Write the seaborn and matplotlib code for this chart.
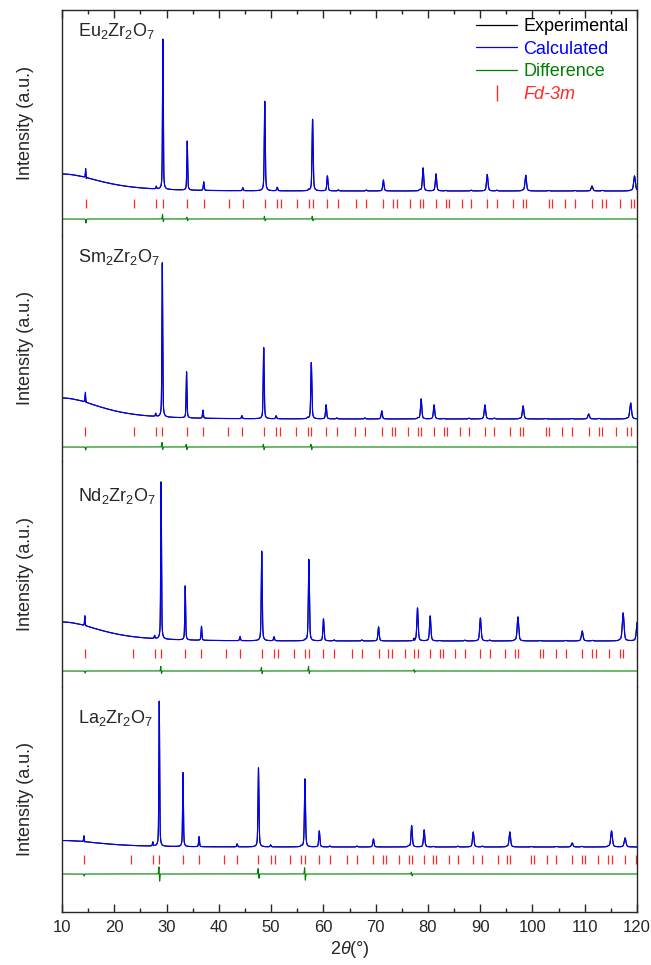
import numpy as np
import pandas as pd
import matplotlib
matplotlib.use("Agg")
import matplotlib.pyplot as plt
from matplotlib.lines import Line2D
from matplotlib.ticker import MultipleLocator
import seaborn as sns

# ---------------------------------------------------------------------------
# Rietveld refinement data of the A2Zr2O7 pyrochlores (Cu K-alpha, 2-theta)
# ---------------------------------------------------------------------------
samples = ["Eu", "Sm", "Nd", "La"]
sample_labels = [r"Eu$_2$Zr$_2$O$_7$", r"Sm$_2$Zr$_2$O$_7$",
                 r"Nd$_2$Zr$_2$O$_7$", r"La$_2$Zr$_2$O$_7$"]

# Bragg reflection positions (2-theta, deg) of the Fd-3m phase
refl_eu = [14.53, 23.84, 28.03, 29.30, 33.96, 37.11, 41.92, 44.59, 48.79, 51.18,
           51.96, 55.00, 57.21, 57.94, 60.77, 62.85, 66.24, 68.23, 71.48, 73.40,
           74.04, 76.56, 78.44, 79.07, 81.55, 83.39, 84.01, 86.46, 88.29, 91.35,
           93.18, 96.25, 98.10, 98.71, 103.07, 103.70, 106.23, 108.14, 111.39,
           113.37, 114.04, 116.74, 118.82, 119.52]
refl_sm = [14.47, 23.75, 27.92, 29.19, 33.83, 36.96, 41.75, 44.41, 48.59, 50.97,
           51.75, 54.78, 56.97, 57.70, 60.52, 62.59, 65.96, 67.94, 71.17, 73.08,
           73.71, 76.22, 78.09, 78.71, 81.18, 83.00, 83.62, 86.05, 87.87, 90.91,
           92.72, 95.77, 97.60, 98.21, 102.53, 103.15, 105.65, 107.54, 110.75,
           112.71, 113.37, 116.04, 118.09, 118.78]
refl_nd = [14.37, 23.57, 27.71, 28.96, 33.57, 36.68, 41.43, 44.06, 48.21, 50.56,
           51.33, 54.33, 56.51, 57.23, 60.02, 62.06, 65.40, 67.36, 70.56, 72.44,
           73.07, 75.55, 77.39, 78.01, 80.44, 82.25, 82.85, 85.25, 87.05, 90.04,
           91.83, 94.82, 96.63, 97.22, 101.46, 102.07, 104.53, 106.38, 109.52,
           111.43, 112.08, 114.68, 116.68, 117.35, 120.06]
refl_la = [14.19, 23.28, 27.37, 28.61, 33.15, 36.22, 40.91, 43.50, 47.59, 49.91,
           50.67, 53.62, 55.77, 56.48, 59.22, 61.24, 64.52, 66.44, 69.58, 71.44,
           72.05, 74.48, 76.29, 76.90, 79.28, 81.05, 81.64, 83.99, 85.74, 88.67,
           90.41, 93.34, 95.09, 95.67, 99.79, 100.39, 102.77, 104.56, 107.60,
           109.44, 110.06, 112.57, 114.49, 115.13, 117.72, 119.73]

# Peak heights (counts above background) for each reflection above
height_eu = [900, 0, 250, 14900, 4900, 850, 0, 300, 8900, 350,
             0, 0, 100, 7100, 1500, 100, 0, 100, 1100, 0,
             0, 0, 100, 2300, 1700, 50, 0, 0, 80, 1650,
             80, 0, 50, 1570, 50, 0, 0, 50, 500,
             60, 0, 0, 50, 1500]
height_sm = [1000, 0, 300, 15300, 4600, 800, 0, 300, 7100, 300,
             0, 0, 100, 5600, 1400, 100, 0, 100, 800, 0,
             0, 0, 100, 2000, 1400, 50, 0, 0, 80, 1400,
             80, 0, 50, 1300, 50, 0, 0, 50, 500,
             60, 0, 0, 50, 1600]
height_nd = [1000, 0, 300, 15600, 5400, 1400, 0, 400, 8900, 400,
             0, 0, 100, 8000, 2200, 100, 0, 100, 1400, 0,
             0, 0, 100, 3300, 2500, 50, 0, 0, 80, 2300,
             80, 0, 50, 2400, 50, 0, 0, 50, 1000,
             60, 0, 0, 50, 2800, 2000]
height_la = [600, 0, 400, 14500, 7400, 1000, 0, 300, 7800, 200,
             0, 0, 100, 6700, 1600, 100, 0, 100, 800, 0,
             0, 0, 100, 2100, 1700, 50, 0, 0, 80, 1500,
             80, 0, 50, 1500, 50, 0, 0, 50, 400,
             60, 0, 0, 50, 1600, 900, 0]

# Background: flat level plus the low-angle hump
bkg_level = [2000, 2000, 2000, 2000]
bkg_hump = [1700, 2100, 1900, 650]

# Misfit features of the difference curve: position, positive and negative lobes
diff_pos_eu = [14.53, 29.30, 33.96, 48.79, 57.94]
diff_up_eu = [0, 500, 200, 300, 300]
diff_dn_eu = [400, 300, 200, 200, 200]
diff_pos_sm = [14.47, 29.19, 33.83, 48.59, 57.70]
diff_up_sm = [0, 500, 300, 300, 300]
diff_dn_sm = [300, 300, 300, 300, 300]
diff_pos_nd = [14.37, 28.96, 48.21, 57.23, 77.39]
diff_up_nd = [0, 500, 400, 500, 150]
diff_dn_nd = [200, 300, 300, 300, 150]
diff_pos_la = [14.19, 28.61, 47.59, 56.48, 76.90]
diff_up_la = [0, 800, 600, 700, 200]
diff_dn_la = [200, 800, 500, 700, 200]

refl = [refl_eu, refl_sm, refl_nd, refl_la]
heights = [height_eu, height_sm, height_nd, height_la]
diff_pos = [diff_pos_eu, diff_pos_sm, diff_pos_nd, diff_pos_la]
diff_up = [diff_up_eu, diff_up_sm, diff_up_nd, diff_up_la]
diff_dn = [diff_dn_eu, diff_dn_sm, diff_dn_nd, diff_dn_la]

# ---------------------------------------------------------------------------
# Profile model (pseudo-Voigt peaks on a smooth background)
# ---------------------------------------------------------------------------
two_theta = np.arange(10.0, 120.0001, 0.01)


def pseudo_voigt(x, x0, fwhm, eta=0.5):
    u = (x - x0) / fwhm
    return eta / (1 + 4 * u ** 2) + (1 - eta) * np.exp(-4 * np.log(2) * u ** 2)


def calc_pattern(i):
    y = bkg_level[i] + bkg_hump[i] / (1 + ((two_theta - 10) / 13.0) ** 2) ** 2
    for x0, h in zip(refl[i], heights[i]):
        if h > 0:
            fwhm = 0.12 + 0.0025 * (x0 - 10)
            y = y + h * pseudo_voigt(two_theta, x0, fwhm)
    return y


def misfit(i):
    r = np.zeros_like(two_theta)
    for x0, up, dn in zip(diff_pos[i], diff_up[i], diff_dn[i]):
        r += up * np.exp(-0.5 * ((two_theta - x0 + 0.06) / 0.06) ** 2)
        r -= dn * np.exp(-0.5 * ((two_theta - x0 - 0.06) / 0.06) ** 2)
    return r


# Vertical layout of each panel (counts): y-limits, tick band, difference offset
ylims = [(-2450, 20100), (-2200, 20350), (-2550, 20000), (-4500, 18050)]
tick_band = [(300, 1200), (300, 1200), (300, 1200), (300, 1200)]
diff_offset = [-800, -800, -1000, -700]
label_y = [0.885, 0.882, 0.823, 0.838]

# ---------------------------------------------------------------------------
sns.set_theme(style="ticks")
plt.rcParams["font.family"] = ["Liberation Sans", "DejaVu Sans"]
plt.rcParams["mathtext.fontset"] = "custom"
plt.rcParams["mathtext.rm"] = "Liberation Sans"
plt.rcParams["mathtext.it"] = "Liberation Sans:italic"
plt.rcParams["axes.edgecolor"] = "#262626"

fig = plt.figure(figsize=(6.51, 9.65), dpi=100)
gs = fig.add_gridspec(4, 1, left=62 / 651, right=637 / 651,
                      top=1 - 10 / 965, bottom=1 - 912 / 965, hspace=0)

c_exp, c_calc, c_diff, c_tick = "black", "#0000ff", "#008000", "#ff2a2a"

axes = []
for i in range(4):
    ax = fig.add_subplot(gs[i])
    axes.append(ax)
    calc = calc_pattern(i)
    res = misfit(i)
    df = pd.DataFrame({"two_theta": two_theta, "exp": calc + res,
                       "calc": calc, "diff": res + diff_offset[i]})
    sns.lineplot(data=df, x="two_theta", y="exp", ax=ax, color=c_exp,
                 lw=0.8, estimator=None, sort=False)
    sns.lineplot(data=df, x="two_theta", y="calc", ax=ax, color=c_calc,
                 lw=0.8, estimator=None, sort=False)
    sns.lineplot(data=df, x="two_theta", y="diff", ax=ax, color=c_diff,
                 lw=0.8, estimator=None, sort=False)
    ax.vlines(refl[i], tick_band[i][0], tick_band[i][1], color=c_tick, lw=0.9)

    ax.set_xlim(10, 120)
    ax.set_ylim(*ylims[i])
    ax.set_yticks([])
    ax.set_ylabel("Intensity (a.u.)", fontsize=13)
    ax.yaxis.set_label_coords(-0.049, 0.5)
    ax.text(0.028, label_y[i], sample_labels[i], transform=ax.transAxes,
            fontsize=13, ha="left", va="baseline")
    ax.xaxis.set_major_locator(MultipleLocator(10))
    ax.xaxis.set_minor_locator(MultipleLocator(5))
    for s in ax.spines.values():
        s.set_linewidth(1.0)
    ax.spines["top"].set_visible(i == 0)
    ax.spines["bottom"].set_visible(i == 3)
    ax.tick_params(axis="x", which="both", direction="in",
                   top=(i == 0), bottom=(i == 3),
                   labelbottom=(i == 3), labeltop=False,
                   labelsize=12, width=1.0, pad=6)
    ax.tick_params(axis="x", which="major", length=6)
    ax.tick_params(axis="x", which="minor", length=3)
    ax.set_xlabel("")

axes[-1].set_xlabel(r"2$\theta$(°)", fontsize=13, labelpad=3)

handles = [Line2D([], [], color=c_exp, lw=0.9),
           Line2D([], [], color=c_calc, lw=0.9),
           Line2D([], [], color=c_diff, lw=0.9),
           Line2D([], [], color=c_tick, marker="|", ls="None",
                  markersize=11, markeredgewidth=1.0)]
labels = ["Experimental", "Calculated", "Difference", "Fd-3m"]
leg = axes[0].legend(handles, labels, loc="upper right", frameon=False,
                     fontsize=13, handlelength=2.3, handletextpad=0.35,
                     labelspacing=0.31, borderaxespad=0.25, borderpad=0.2)
for txt, col in zip(leg.get_texts(), [c_exp, c_calc, c_diff, c_tick]):
    txt.set_color(col)
leg.get_texts()[3].set_fontstyle("italic")

fig.savefig("out.png", dpi=100)
